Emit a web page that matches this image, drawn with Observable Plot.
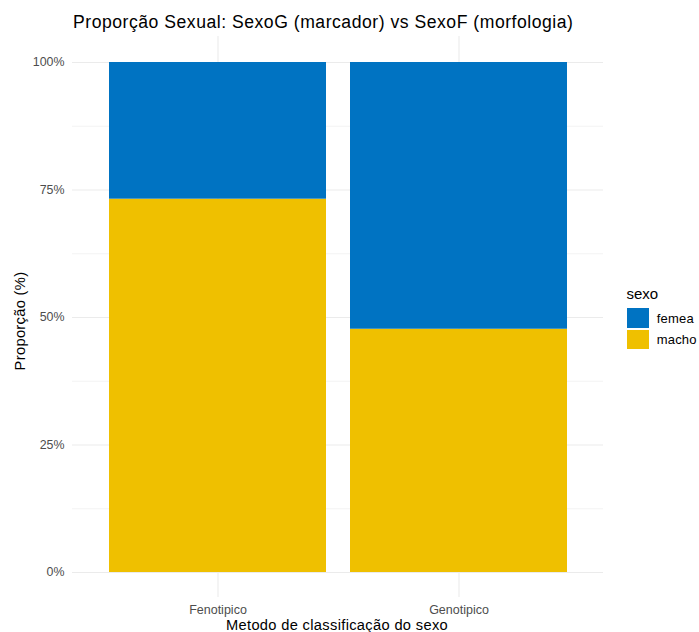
<!DOCTYPE html>
<html><head><meta charset="utf-8">
<script src="https://cdn.jsdelivr.net/npm/d3@7"></script>
<script src="https://cdn.jsdelivr.net/npm/@observablehq/plot@0.6"></script>
<style>
body{margin:0;background:#fff;font-family:"Liberation Sans",Arial,sans-serif;}
#wrap{position:relative;width:699px;height:632px;overflow:hidden;}
#wrap svg{position:absolute;left:0;top:0;}
.t{position:absolute;white-space:nowrap;}
#title{left:73px;top:14.1px;font-size:17.6px;line-height:17.6px;letter-spacing:0.52px;color:#000;}
#xtitle{left:337px;top:617.9px;font-size:14.67px;line-height:14.67px;letter-spacing:0.33px;transform:translateX(-50%);color:#000;}
#ytitle{left:19.5px;top:321px;font-size:14.67px;line-height:14.67px;letter-spacing:0.33px;transform:translate(-50%,-50%) rotate(-90deg);color:#000;}
#leg{position:absolute;left:626.5px;top:285.6px;}
#legtitle{font-size:15px;line-height:15px;color:#000;}
.row{display:flex;align-items:center;height:21.5px;}
.key{width:22.7px;height:19.5px;margin-right:7.5px;}
.lab{font-size:13px;letter-spacing:0.2px;color:#000;}
</style></head>
<body><div id="wrap">
<div class="t" id="title">Proporção Sexual: SexoG (marcador) vs SexoF (morfologia)</div>
<div class="t" id="xtitle">Metodo de classificação do sexo</div>
<div class="t" id="ytitle">Proporção (%)</div>
<div id="leg"><div id="legtitle">sexo</div><div id="legrows" style="margin-top:6.7px"></div></div>
</div>
<script>
const metodos = ["Fenotipico", "Genotipico"];
const sexos = ["macho", "femea"];
const macho = [0.732, 0.477];
const femea = [0.268, 0.523];
const yTicks = [0, 0.25, 0.5, 0.75, 1];
const yMinor = [0.125, 0.375, 0.625, 0.875];
const tickLabels = ["0%", "25%", "50%", "75%", "100%"];
const legendOrder = ["femea", "macho"];
const colors = {macho: "#EFC000", femea: "#0073C2"};

const data = [];
metodos.forEach((m, i) => {
  data.push({metodo: m, sexo: "macho", prop: macho[i]});
  data.push({metodo: m, sexo: "femea", prop: femea[i]});
});

const chart = Plot.plot({
  width: 699, height: 632,
  marginLeft: 72, marginRight: 96, marginTop: 36, marginBottom: 35,
  style: {fontFamily: "Liberation Sans, Arial, sans-serif", background: "transparent"},
  x: {domain: metodos, paddingInner: 0.1, paddingOuter: 0.15, label: null},
  y: {domain: [0, 1], range: [572, 62], label: null},
  color: {domain: sexos, range: sexos.map(s => colors[s])},
  marks: [
    Plot.ruleY(yMinor, {stroke: "#ebebeb", strokeWidth: 0.6}),
    Plot.ruleY(yTicks, {stroke: "#ebebeb", strokeWidth: 1.1}),
    Plot.gridX({stroke: "#ebebeb", strokeOpacity: 1, strokeWidth: 1.1}),
    Plot.barY(data, {x: "metodo", y: "prop", fill: "sexo"}),
    Plot.axisY({ticks: yTicks, tickSize: 0, tickPadding: 8, fontSize: 12.4, color: "#4d4d4d",
      tickFormat: d => tickLabels[yTicks.indexOf(d)], label: null}),
    Plot.axisX({tickSize: 0, tickPadding: 8, fontSize: 12.5, color: "#4d4d4d", label: null})
  ]
});
document.getElementById("wrap").prepend(chart);

const rows = document.getElementById("legrows");
legendOrder.forEach(s => {
  const r = document.createElement("div");
  r.className = "row";
  r.innerHTML = `<div class="key" style="background:${colors[s]}"></div><span class="lab">${s}</span>`;
  rows.appendChild(r);
});
</script>
</body></html>
